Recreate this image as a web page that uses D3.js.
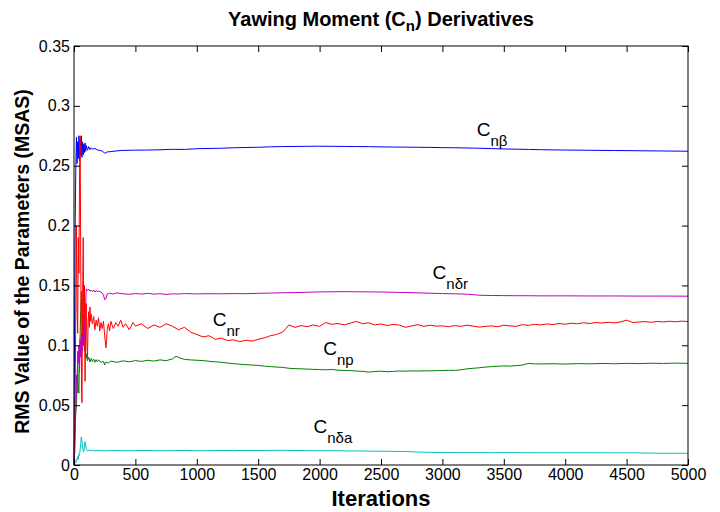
<!DOCTYPE html>
<html>
<head>
<meta charset="utf-8">
<script src="https://cdn.jsdelivr.net/npm/d3@7"></script>
<style>
  body { margin: 0; background: #fff; }
  svg { font-family: "Liberation Sans", Arial, Helvetica, sans-serif; }
</style>
</head>
<body>
<svg id="chart" width="720" height="512"></svg>
<script>
// values, [iteration, rms value]
var cnBeta = [[0,0],[5,0.12],[10,0.205],[15,0.25],[20,0.274],[25,0.252],[30,0.27],[35,0.256],[40,0.275],[45,0.254],[50,0.273],[55,0.258],[60,0.275],[65,0.257],[70,0.27],[75,0.259],[80,0.268],[85,0.261],[90,0.269],[95,0.262],[100,0.267],[110,0.263],[120,0.266],[130,0.2635],[140,0.265],[150,0.2638],[170,0.2645],[190,0.2632],[210,0.2628],[230,0.2622],[250,0.2605],[270,0.2615],[300,0.2618],[350,0.2624],[400,0.2628],[500,0.263],[600,0.2631],[700,0.2633],[800,0.2637],[900,0.2636],[1000,0.2642],[1100,0.2644],[1200,0.2646],[1300,0.265],[1400,0.2652],[1500,0.2654],[1600,0.2658],[1700,0.266],[1800,0.2661],[1900,0.2662],[2000,0.2663],[2100,0.2662],[2200,0.2661],[2300,0.266],[2400,0.2659],[2500,0.2657],[2600,0.2656],[2700,0.2655],[2800,0.2654],[2900,0.2653],[3000,0.2651],[3100,0.265],[3200,0.2648],[3300,0.2646],[3400,0.2643],[3500,0.264],[3600,0.2638],[3700,0.2636],[3800,0.2634],[3900,0.2632],[4000,0.2631],[4200,0.2629],[4400,0.2627],[4600,0.2625],[4800,0.2623],[5000,0.2621]];

var cnr = [[0,0],[5,0.03],[10,0.06],[15,0.14],[20,0.2],[25,0.13],[30,0.11],[35,0.19],[40,0.16],[45,0.24],[50,0.275],[55,0.17],[60,0.09],[62,0.06],[65,0.052],[70,0.14],[75,0.19],[80,0.1],[85,0.15],[90,0.07],[95,0.12],[100,0.135],[105,0.1],[110,0.09],[115,0.12],[120,0.128],[125,0.115],[130,0.132],[135,0.12],[140,0.126],[150,0.118],[160,0.124],[170,0.113],[180,0.121],[190,0.116],[200,0.123],[210,0.112],[220,0.119],[230,0.114],[240,0.12],[250,0.108],[260,0.098],[265,0.104],[270,0.113],[280,0.118],[290,0.112],[300,0.12],[320,0.114],[340,0.119],[360,0.116],[380,0.121],[400,0.115],[420,0.118],[450,0.113],[480,0.119],[500,0.116],[550,0.118],[600,0.114],[650,0.117],[700,0.115],[750,0.118],[800,0.116],[850,0.113],[900,0.115],[950,0.111],[1000,0.109],[1050,0.107],[1100,0.108],[1150,0.105],[1200,0.106],[1250,0.104],[1300,0.1045],[1350,0.103],[1400,0.1042],[1450,0.1035],[1500,0.105],[1550,0.1062],[1600,0.108],[1650,0.109],[1700,0.111],[1750,0.117],[1800,0.115],[1850,0.1165],[1900,0.1155],[1950,0.117],[2000,0.1158],[2050,0.119],[2100,0.1175],[2150,0.1182],[2200,0.117],[2250,0.1185],[2300,0.12],[2350,0.118],[2400,0.1188],[2450,0.117],[2500,0.1178],[2550,0.1165],[2600,0.1175],[2650,0.1168],[2700,0.115],[2750,0.1162],[2800,0.1172],[2850,0.1158],[2900,0.1168],[2950,0.116],[3000,0.1162],[3050,0.1155],[3100,0.1165],[3150,0.1158],[3200,0.1168],[3250,0.116],[3300,0.1152],[3350,0.1158],[3400,0.1162],[3450,0.1155],[3500,0.1168],[3550,0.1162],[3600,0.1158],[3650,0.1172],[3700,0.1166],[3750,0.1175],[3800,0.117],[3850,0.1178],[3900,0.1173],[3950,0.1182],[4000,0.1176],[4050,0.1184],[4100,0.118],[4150,0.1188],[4200,0.1182],[4250,0.119],[4300,0.1186],[4350,0.1192],[4400,0.1187],[4450,0.1195],[4500,0.121],[4550,0.119],[4600,0.1194],[4650,0.1198],[4700,0.1192],[4750,0.1199],[4800,0.1195],[4850,0.1201],[4900,0.1196],[4950,0.1202],[5000,0.1198]];

var cnp = [[0,0],[5,0.01],[10,0.03],[15,0.045],[20,0.05],[25,0.07],[30,0.085],[35,0.065],[40,0.06],[45,0.09],[50,0.11],[55,0.13],[60,0.145],[65,0.12],[70,0.1],[75,0.125],[80,0.11],[85,0.095],[90,0.1],[95,0.092],[100,0.089],[105,0.093],[110,0.087],[120,0.09],[130,0.086],[140,0.089],[150,0.0865],[160,0.0885],[170,0.0858],[180,0.088],[190,0.0862],[200,0.0878],[220,0.0858],[240,0.0865],[250,0.0835],[260,0.086],[280,0.0852],[300,0.0868],[350,0.0858],[400,0.087],[450,0.0862],[500,0.0872],[550,0.0865],[600,0.0875],[650,0.0868],[700,0.0878],[750,0.0872],[800,0.0885],[830,0.0908],[860,0.0895],[900,0.0882],[950,0.0878],[1000,0.0875],[1050,0.0872],[1100,0.0866],[1150,0.0862],[1200,0.0858],[1250,0.0852],[1300,0.0846],[1350,0.0842],[1400,0.0838],[1450,0.0835],[1500,0.0832],[1550,0.0826],[1600,0.0822],[1650,0.0818],[1700,0.0815],[1750,0.0808],[1800,0.0805],[1850,0.0803],[1900,0.0801],[1950,0.0799],[2000,0.0797],[2050,0.0795],[2100,0.0798],[2150,0.0792],[2200,0.079],[2250,0.0788],[2300,0.0785],[2350,0.0782],[2400,0.0776],[2450,0.0781],[2500,0.0784],[2550,0.0779],[2600,0.0782],[2650,0.0785],[2700,0.0784],[2750,0.0786],[2800,0.0785],[2850,0.0787],[2900,0.0786],[2950,0.0788],[3000,0.0789],[3050,0.0791],[3100,0.079],[3150,0.0795],[3200,0.0803],[3250,0.0808],[3300,0.0812],[3350,0.0818],[3400,0.0822],[3450,0.0825],[3500,0.0828],[3550,0.0826],[3600,0.083],[3650,0.0835],[3700,0.0848],[3750,0.0845],[3800,0.0844],[3900,0.0846],[4000,0.0843],[4100,0.0847],[4200,0.0845],[4300,0.0848],[4400,0.0846],[4500,0.0849],[4600,0.0847],[4700,0.085],[4800,0.0848],[4900,0.0851],[5000,0.0849]];

var cnDr = [[0,0],[5,0.01],[10,0.03],[15,0.05],[20,0.075],[25,0.06],[30,0.095],[35,0.085],[40,0.1],[45,0.078],[50,0.105],[55,0.09],[60,0.11],[65,0.095],[70,0.108],[75,0.1],[80,0.112],[85,0.105],[90,0.12],[95,0.135],[100,0.147],[105,0.1465],[110,0.1455],[120,0.1468],[130,0.1452],[140,0.146],[150,0.1448],[160,0.1462],[170,0.1445],[180,0.1456],[190,0.1448],[200,0.1452],[220,0.1445],[240,0.142],[250,0.138],[260,0.139],[270,0.1428],[290,0.1435],[320,0.1428],[350,0.1438],[400,0.143],[450,0.1426],[500,0.1432],[550,0.1428],[600,0.1434],[650,0.1427],[700,0.1431],[750,0.1425],[800,0.143],[850,0.1428],[900,0.1432],[1000,0.1429],[1100,0.1431],[1200,0.143],[1300,0.1432],[1400,0.1431],[1500,0.1434],[1600,0.1436],[1700,0.1439],[1800,0.144],[1900,0.1443],[2000,0.1446],[2100,0.1447],[2200,0.1448],[2300,0.1447],[2400,0.1446],[2500,0.1445],[2600,0.1443],[2700,0.1441],[2800,0.1438],[2900,0.1435],[3000,0.1432],[3100,0.143],[3200,0.1427],[3300,0.1418],[3400,0.1416],[3500,0.1415],[3600,0.1414],[3700,0.1414],[3800,0.1413],[3900,0.1413],[4000,0.1413],[4200,0.1412],[4400,0.1412],[4600,0.1411],[4800,0.1411],[5000,0.141]];

var cnDa = [[0,0],[5,0.001],[10,0.003],[15,0.002],[20,0.005],[25,0.004],[30,0.007],[35,0.005],[40,0.009],[45,0.008],[50,0.013],[55,0.018],[60,0.0235],[65,0.02],[70,0.015],[75,0.012],[80,0.011],[85,0.016],[90,0.0195],[95,0.0165],[100,0.0135],[110,0.0118],[120,0.0125],[130,0.012],[150,0.0123],[170,0.0119],[200,0.0122],[250,0.0118],[300,0.0121],[400,0.0119],[500,0.012],[600,0.0121],[700,0.0119],[800,0.012],[900,0.0121],[1000,0.0119],[1100,0.012],[1200,0.0121],[1300,0.012],[1400,0.0122],[1500,0.0121],[1600,0.0122],[1700,0.0123],[1800,0.0121],[1900,0.012],[2000,0.0119],[2100,0.012],[2200,0.0118],[2300,0.0117],[2400,0.0116],[2500,0.0115],[2600,0.0114],[2700,0.0113],[2800,0.0108],[2900,0.0106],[3000,0.0104],[3100,0.0103],[3200,0.0103],[3400,0.0103],[3600,0.0103],[3800,0.0102],[4000,0.0102],[4200,0.0102],[4400,0.0101],[4600,0.0101],[4800,0.0098],[5000,0.0098]];

var xTicks = [0, 500, 1000, 1500, 2000, 2500, 3000, 3500, 4000, 4500, 5000];
var yTicks = [0, 0.05, 0.1, 0.15, 0.2, 0.25, 0.3, 0.35];

// drawing order and label positions (iteration, value of the C baseline)
var series = [
    { data: cnBeta, color: "#0000ff", sub: "n\u03b2",  lx: 3280, ly: 0.2745 },
    { data: cnp,    color: "#008000", sub: "np",       lx: 2030, ly: 0.0915 },
    { data: cnr,    color: "#ff0000", sub: "nr",       lx: 1130, ly: 0.1165 },
    { data: cnDr,   color: "#c000c0", sub: "n\u03b4r", lx: 2920, ly: 0.1555 },
    { data: cnDa,   color: "#00c0c0", sub: "n\u03b4a", lx: 1950, ly: 0.0268 }
];

var plotL = 74, plotR = 688, plotT = 46, plotB = 465;
var svg = d3.select("#chart");

var scX = d3.scaleLinear().domain([0, 5000]).range([plotL, plotR]);
var scY = d3.scaleLinear().domain([0, 0.35]).range([plotB, plotT]);

var lineMaker = d3.line()
    .x(d => scX(d[0]))
    .y(d => scY(d[1]));

svg.append("g").attr("id", "lines")
    .selectAll("path")
    .data(series).enter().append("path")
    .attr("fill", "none")
    .attr("stroke", d => d.color)
    .attr("stroke-width", 1)
    .attr("d", d => lineMaker(d.data));

// axes, ticks inside on all four sides
var tickLen = 6;
var xBottom = svg.append("g").attr("transform", "translate(0," + plotB + ")")
    .call(d3.axisBottom(scX).tickValues(xTicks).tickSize(-tickLen).tickPadding(4).tickFormat(d3.format("d")));
var xTop = svg.append("g").attr("transform", "translate(0," + plotT + ")")
    .call(d3.axisTop(scX).tickValues(xTicks).tickSize(-tickLen).tickFormat(""));
var yLeft = svg.append("g").attr("transform", "translate(" + plotL + ",0)")
    .call(d3.axisLeft(scY).tickValues(yTicks).tickSize(-tickLen).tickPadding(4).tickFormat(d => String(+d.toFixed(2))));
var yRight = svg.append("g").attr("transform", "translate(" + plotR + ",0)")
    .call(d3.axisRight(scY).tickValues(yTicks).tickSize(-tickLen).tickFormat(""));

[xBottom, xTop, yLeft, yRight].forEach(function (g) {
    g.select(".domain").remove();
    g.selectAll("line").attr("stroke", "#000");
    g.selectAll("text").attr("fill", "#000").style("font-size", "16px").style("font-family", "\"Liberation Sans\", Arial, sans-serif");
});

svg.append("rect")
    .attr("x", plotL).attr("y", plotT)
    .attr("width", plotR - plotL).attr("height", plotB - plotT)
    .attr("fill", "none").attr("stroke", "#000").attr("stroke-width", 1);

// series labels
var labels = svg.append("g").attr("id", "labels");
series.forEach(function (s) {
    var t = labels.append("text")
        .attr("x", scX(s.lx)).attr("y", scY(s.ly))
        .attr("fill", "#000")
        .style("font-size", "19px");
    t.append("tspan").text("C");
    t.append("tspan").attr("dy", 10).style("font-size", "15px").text(s.sub);
});

// title
var title = svg.append("text")
    .attr("x", (plotL + plotR) / 2).attr("y", 26)
    .attr("text-anchor", "middle")
    .style("font-size", "20px").style("font-weight", "bold");
title.append("tspan").text("Yawing Moment (C");
title.append("tspan").attr("dy", 5).style("font-size", "15px").text("n");
title.append("tspan").attr("dy", -5).text(") Derivatives");

svg.append("text")
    .attr("x", (plotL + plotR) / 2).attr("y", 506)
    .attr("text-anchor", "middle")
    .style("font-size", "22px").style("font-weight", "bold")
    .text("Iterations");

svg.append("text")
    .attr("transform", "translate(29," + ((plotT + plotB) / 2 + 6) + ") rotate(-90)")
    .attr("text-anchor", "middle")
    .style("font-size", "19.5px").style("font-weight", "bold")
    .text("RMS Value of the Parameters (MSAS)");
</script>
</body>
</html>
